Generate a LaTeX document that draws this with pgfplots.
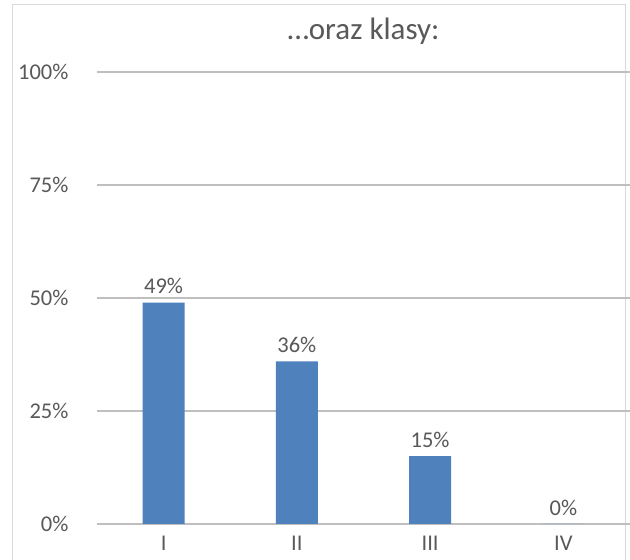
\documentclass[border=0pt]{standalone}
\usepackage{pgfplots}
\pgfplotsset{compat=1.18}
\usepackage{fontspec}
\setmainfont{Carlito}
\definecolor{barblue}{HTML}{4F81BD}
\definecolor{txt}{HTML}{595959}
\definecolor{grid}{HTML}{D9D9D9}
\begin{document}
\begin{tikzpicture}
\path[use as bounding box, clip] (0pt,0pt) rectangle (630pt,560pt);
\fill[white] (0pt,0pt) rectangle (630pt,560pt);
\draw[grid, line width=1pt] (12.5pt,-10pt) rectangle (625.5pt,555pt);
\begin{axis}[
  at={(97pt,36pt)}, anchor=south west,
  scale only axis, width=533pt, height=452pt,
  xmin=-0.5, xmax=3.5, ymin=0, ymax=100,
  xtick=data, xticklabels={I,II,III,IV},
  ytick={0,25,50,75,100},
  yticklabel={\pgfmathprintnumber{\tick}\%},
  /pgf/number format/assume math mode=true,
  axis line style={draw=none},
  ymajorgrids, xmajorgrids=false, grid style={grid, line width=1.5pt},
  major tick length=0pt, tick style={draw=none},
  tick label style={font=\fontsize{22.5}{26}\selectfont, text=txt},
  xticklabel style={yshift=-9pt},
  yticklabel style={xshift=-25pt},
  ybar, bar width=42pt,
  nodes near coords={\pgfmathprintnumber{\pgfplotspointmeta}\%},
  nodes near coords style={font=\fontsize{22.5}{26}\selectfont, text=txt, anchor=south, yshift=5pt},
  title={\dots oraz klasy:},
  title style={font=\fontsize{31}{36}\selectfont, text=txt, yshift=18pt},
  clip=false,
]
\addplot[fill=barblue, draw=none] coordinates {(0,49) (1,36) (2,15) (3,0)};
\end{axis}
\end{tikzpicture}
\end{document}
